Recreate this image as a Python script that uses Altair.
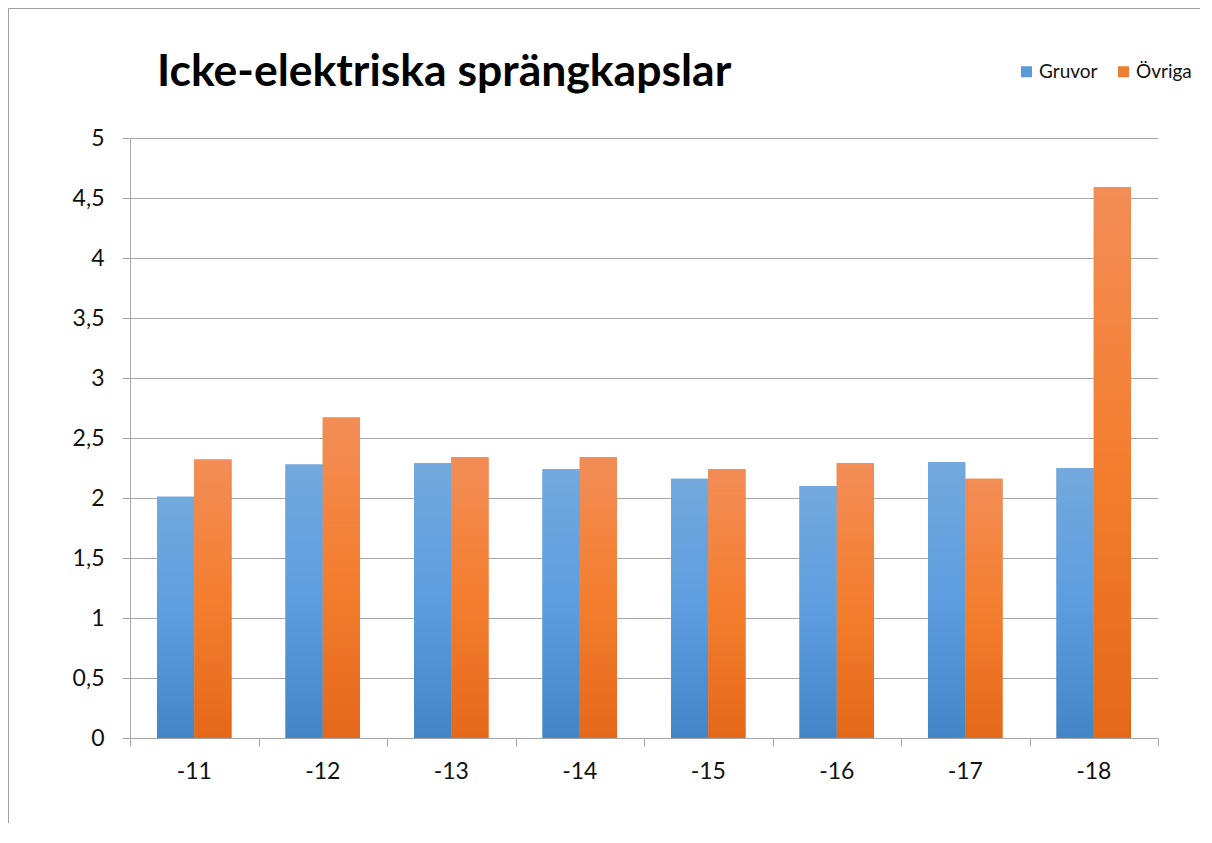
import altair as alt
import pandas as pd

title_text = "Icke-elektriska sprängkapslar"
years = ["-11", "-12", "-13", "-14", "-15", "-16", "-17", "-18"]
series_names = ["Gruvor", "Övriga"]
gruvor = [2.01, 2.28, 2.29, 2.24, 2.16, 2.10, 2.30, 2.25]
ovriga = [2.32, 2.67, 2.34, 2.34, 2.24, 2.29, 2.16, 4.59]
y_ticks = [0, 0.5, 1, 1.5, 2, 2.5, 3, 3.5, 4, 4.5, 5]

rows = []
for i, yr in enumerate(years):
    rows.append({"year": yr, "series": "Gruvor", "value": gruvor[i]})
    rows.append({"year": yr, "series": "Övriga", "value": ovriga[i]})
df = pd.DataFrame(rows)

FONT = "Lato"
GRID = "#a6a6a6"

blue_grad = {"gradient": "linear", "x1": 0, "y1": 0, "x2": 0, "y2": 1,
             "stops": [{"offset": 0, "color": "#73a9dd"},
                       {"offset": 0.5, "color": "#5d9ddf"},
                       {"offset": 1, "color": "#4385c6"}]}
orange_grad = {"gradient": "linear", "x1": 0, "y1": 0, "x2": 0, "y2": 1,
               "stops": [{"offset": 0, "color": "#f28d57"},
                         {"offset": 0.5, "color": "#f47e2f"},
                         {"offset": 1, "color": "#e4681a"}]}

x_enc = alt.X("year:N", sort=years,
              scale=alt.Scale(paddingInner=0.42, paddingOuter=0.21),
              axis=alt.Axis(title=None, labelAngle=0, ticks=False, domain=True,
                            domainColor=GRID, labelFontSize=23, labelFont=FONT,
                            labelFontWeight="normal",
                            labelColor="#111", labelPadding=22, grid=False,
                            orient="bottom"))
xoff_enc = alt.XOffset("series:N", sort=series_names,
                       scale=alt.Scale(domain=series_names, paddingInner=0, paddingOuter=0))
y_enc = alt.Y("value:Q", scale=alt.Scale(domain=[0, 5], nice=False),
              axis=alt.Axis(title=None, values=y_ticks, format=".1~f",
                            labelExpr="replace(datum.label, '.', ',')",
                            labelFontSize=23, labelFont=FONT, labelColor="#111",
                            labelFontWeight="normal",
                            tickSize=8, tickColor=GRID, domainColor=GRID,
                            gridColor=GRID, labelPadding=18))

base = alt.Chart(df).encode(x=x_enc, xOffset=xoff_enc, y=y_enc)

legend_bars = base.mark_bar().encode(
    color=alt.Color("series:N",
                    scale=alt.Scale(domain=series_names, range=["#5b9bd5", "#ed7d31"]),
                    legend=alt.Legend(title=None, orient="none", legendX=887, legendY=-76,
                                      direction="horizontal", symbolType="square",
                                      symbolSize=121, symbolStrokeWidth=0,
                                      labelFontSize=19, labelFont=FONT, labelColor="#111",
                                      labelOffset=3, columnPadding=16, padding=0))
)
blue_bars = base.transform_filter(alt.datum.series == "Gruvor").mark_bar(color=blue_grad)
orange_bars = base.transform_filter(alt.datum.series == "Övriga").mark_bar(color=orange_grad)
bars = alt.layer(legend_bars, blue_bars, orange_bars)

tick_layer = alt.Chart(pd.DataFrame({"t": [0]})).mark_point(opacity=0).encode(
    x=alt.X("t:Q", scale=alt.Scale(domain=[0, 8], nice=False),
            axis=alt.Axis(values=list(range(9)), labels=False, tickSize=8,
                          tickColor=GRID, domain=False, grid=False, title=None,
                          orient="bottom"))
)

frame_df = pd.DataFrame({"t": [0]})
frame_top = alt.Chart(frame_df).mark_rule(color="#a0a0a0", strokeWidth=1).encode(
    x=alt.value(-121.5), x2=alt.value(1070), y=alt.value(-129.5)
)
frame_left = alt.Chart(frame_df).mark_rule(color="#a0a0a0", strokeWidth=1).encode(
    x=alt.value(-121.5), y=alt.value(-129.5), y2=alt.value(690)
)

title = alt.Chart(pd.DataFrame({"title": [title_text]})).mark_text(
    align="left", baseline="alphabetic", font=FONT, fontSize=44.5, fontWeight="bold",
    color="#000"
).encode(text="title:N", x=alt.value(27), y=alt.value(-52))

chart = alt.layer(bars, tick_layer, frame_top, frame_left, title).resolve_scale(
    x="independent"
).properties(
    width=1028, height=600,
    autosize=alt.AutoSizeParams(type="none"),
    padding={"left": 122, "top": 130, "right": 44, "bottom": 85},
).configure_view(stroke=None).configure_axis(gridWidth=1)

chart.save("out.html", embed_options={"renderer": "svg", "actions": False})
